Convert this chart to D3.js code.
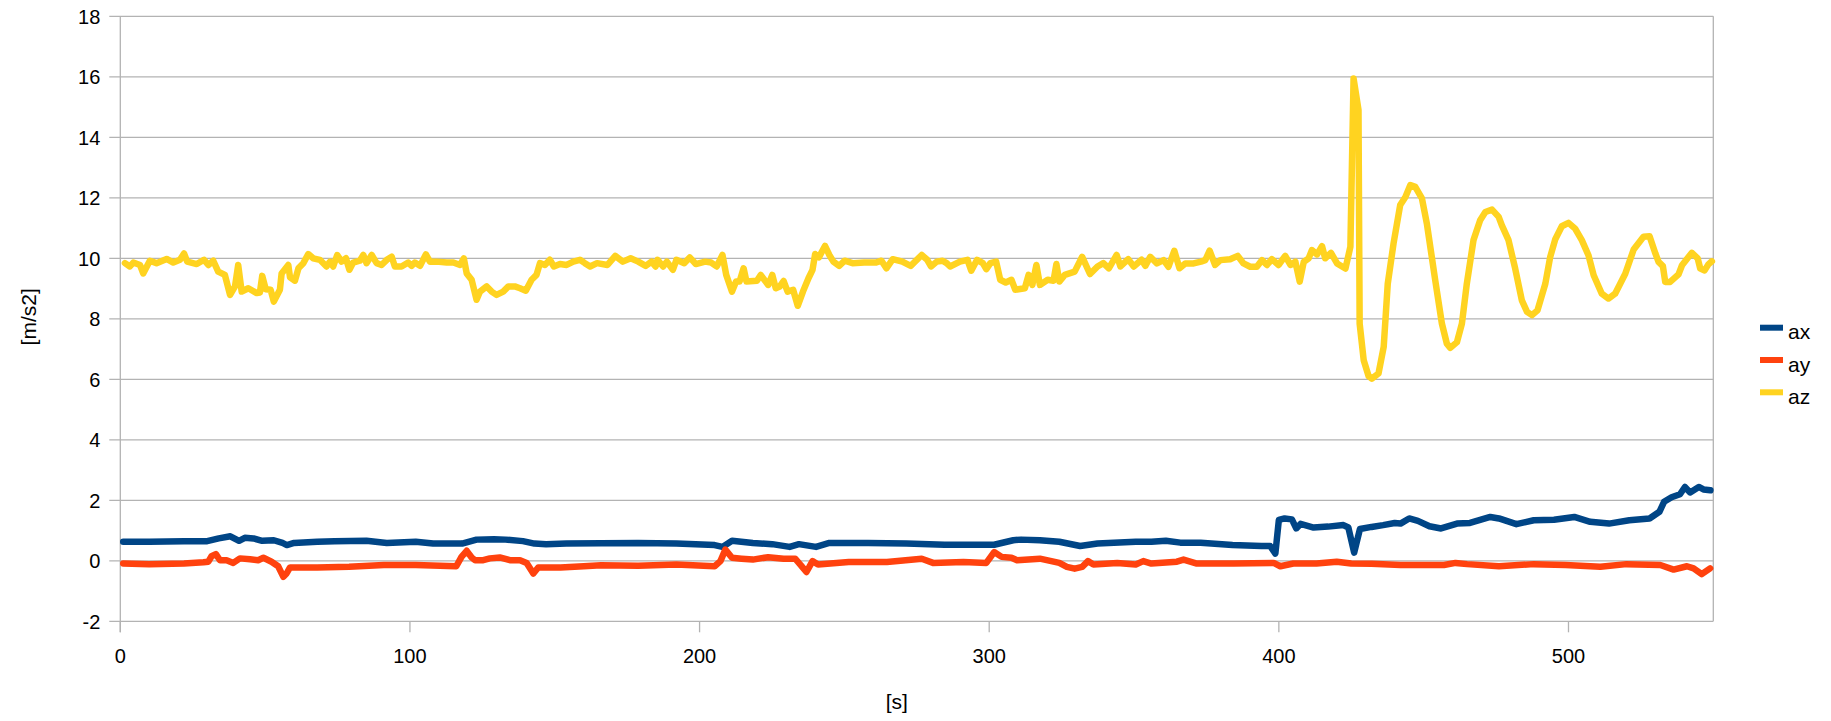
<!DOCTYPE html>
<html lang="en">
  <head>
    <meta charset="utf-8" />
    <title>Acceleration</title>
    <style>
      html,
      body {
        margin: 0;
        padding: 0;
        background: #ffffff;
      }
      svg {
        display: block;
        font-family: 'Liberation Sans', Arial, sans-serif;
      }
      .grid line {
        stroke: #b3b3b3;
        stroke-width: 1.3;
      }
      .series {
        fill: none;
        stroke-width: 6.5;
        stroke-linejoin: round;
        stroke-linecap: round;
      }
    </style>
  </head>

  <body>
    <svg></svg>

    <script src="https://d3js.org/d3.v7.min.js"></script>
    <script type="text/javascript">
      let width = 1831,
        height = 721

      // [s] sample times and values
      let axT = [1, 10, 22, 30, 34, 38, 41, 43, 46, 49, 53, 56, 57.5, 60, 68, 74, 85, 92, 102, 108, 118, 123, 129, 133, 139, 143, 147, 154, 166, 178.8, 192, 205.2, 207.9, 211.2, 218.4, 225.1, 231.1, 234.3, 240.2, 244.8, 258.2, 271.4, 284.6, 301.7, 308.3, 311, 317.5, 324.2, 331.4, 337.4, 350.6, 356, 361, 366, 373, 384, 394, 397, 398.8, 400, 402, 404.5, 406, 407.5, 412, 417, 422.3, 424, 426, 428, 432, 436, 440, 442, 445, 448, 452, 456, 461.5, 466, 473, 476, 482, 488, 495, 502, 507.5, 514, 521, 528, 531.4, 533, 535.6, 538.5, 540.2, 542, 545, 546.6, 549]
      let axV = [0.63, 0.63, 0.65, 0.65, 0.74, 0.81, 0.66, 0.76, 0.74, 0.66, 0.68, 0.59, 0.52, 0.59, 0.63, 0.65, 0.66, 0.59, 0.63, 0.57, 0.57, 0.7, 0.71, 0.7, 0.65, 0.57, 0.55, 0.57, 0.58, 0.59, 0.57, 0.52, 0.46, 0.66, 0.59, 0.55, 0.46, 0.55, 0.46, 0.59, 0.59, 0.57, 0.53, 0.53, 0.68, 0.7, 0.68, 0.63, 0.49, 0.57, 0.63, 0.63, 0.66, 0.6, 0.6, 0.52, 0.49, 0.49, 0.24, 1.35, 1.4, 1.37, 1.07, 1.22, 1.1, 1.13, 1.18, 1.1, 0.27, 1.05, 1.12, 1.18, 1.25, 1.23, 1.4, 1.32, 1.14, 1.07, 1.23, 1.25, 1.45, 1.4, 1.21, 1.34, 1.36, 1.45, 1.29, 1.23, 1.34, 1.4, 1.62, 1.95, 2.1, 2.2, 2.44, 2.26, 2.44, 2.36, 2.33]

      let ayT = [1, 10, 22, 28.7, 30.4, 31.5, 33, 34.4, 36.7, 39, 41.3, 44.8, 47.6, 49.4, 52.2, 54.5, 56.3, 57.4, 58.6, 68, 79, 91, 102, 116, 117.8, 119.6, 121.3, 122.5, 125.3, 127.6, 131, 134.5, 138, 140.3, 142.6, 144.3, 152, 160, 166, 178.8, 192, 205.2, 207.2, 208.9, 211.2, 214.5, 218.4, 223.7, 229, 233, 235, 236.9, 239, 240.9, 251.5, 264.7, 276.7, 280.6, 291.1, 299, 301.7, 304.3, 307.7, 309.6, 317.5, 324.2, 326.8, 329.5, 332.1, 334.1, 336, 344.2, 350.6, 353.2, 356, 364.8, 367.1, 371.7, 384.4, 398.2, 400.5, 405, 413, 420, 425, 432, 442, 449, 457, 461, 465, 476, 488, 499, 511, 520, 531.7, 536.3, 540.9, 543.2, 546, 548.9]
      let ayV = [-0.09, -0.11, -0.09, -0.05, -0.03, 0.15, 0.22, 0.02, 0.02, -0.07, 0.08, 0.05, 0.02, 0.1, -0.03, -0.18, -0.53, -0.42, -0.22, -0.22, -0.2, -0.14, -0.14, -0.18, 0.13, 0.33, 0.11, 0.02, 0.02, 0.08, 0.11, 0.02, 0.02, -0.07, -0.42, -0.22, -0.22, -0.18, -0.15, -0.16, -0.12, -0.18, -0.01, 0.37, 0.1, 0.07, 0.04, 0.12, 0.07, 0.07, -0.15, -0.37, -0.01, -0.12, -0.04, -0.04, 0.07, -0.07, -0.04, -0.07, 0.29, 0.13, 0.1, 0.02, 0.07, -0.07, -0.2, -0.26, -0.2, -0.01, -0.12, -0.07, -0.12, -0.01, -0.09, -0.03, 0.04, -0.09, -0.09, -0.07, -0.18, -0.09, -0.09, -0.03, -0.09, -0.1, -0.14, -0.14, -0.14, -0.07, -0.11, -0.18, -0.11, -0.14, -0.2, -0.11, -0.14, -0.29, -0.18, -0.25, -0.44, -0.25]

      let azT = [1.6, 3.3, 4.5, 6.8, 7.9, 10.2, 12.5, 16, 18.3, 20.6, 22, 23.1, 26.4, 28.9, 30.4, 32.1, 33.8, 36.1, 37.9, 39.6, 40.7, 41.9, 44.2, 47.1, 48.2, 49, 50.2, 51.9, 53, 55.1, 55.7, 58, 58.6, 60.3, 61.5, 63.2, 64.9, 66.6, 68.9, 71.2, 72.4, 73.5, 74.9, 76.4, 77.9, 79.1, 80.4, 82.7, 83.9, 85, 86.8, 88.5, 90.2, 92, 93.7, 94.8, 97.1, 99.4, 100.6, 101.7, 103.5, 105.5, 106.9, 109.2, 112.7, 115, 117.3, 118.6, 119.6, 121.3, 123, 124.2, 126.5, 128.2, 129.9, 132.2, 134, 136.2, 138, 140, 142, 143.7, 144.9, 146.6, 148.3, 149.7, 151.8, 154.1, 156.4, 158.7, 160.4, 162.2, 164.6, 168.2, 170.9, 173.5, 176.2, 178.8, 181.4, 183.4, 184.8, 185.5, 187.4, 188.7, 190.8, 192, 194.7, 196.6, 198.7, 201.9, 204, 205.9, 207.9, 209.2, 211.2, 212.6, 213.8, 215.2, 216.2, 219.8, 221.1, 223.7, 225.1, 226.3, 227.7, 229, 230.4, 232.3, 233.9, 235.7, 237.6, 239, 239.9, 241.2, 243.3, 244.8, 246.2, 248.2, 250.1, 252.8, 256.8, 260.8, 262.8, 264.5, 266.7, 270, 272.9, 276.7, 278.6, 279.9, 281.9, 283.9, 285.3, 286.5, 289.9, 292.5, 293.8, 295.8, 297.8, 299, 300.4, 302.4, 303.8, 305.7, 307.7, 309, 312.3, 313.6, 314.9, 316.3, 317.5, 320.2, 322.2, 323.2, 324.2, 326.1, 329.5, 332.1, 334.8, 337.4, 339.4, 341.3, 344, 345.3, 348, 349.9, 352.6, 353.9, 355.6, 357.9, 360.2, 361.9, 363.9, 365.7, 367.7, 370.6, 373.1, 374.6, 376.1, 378, 379.8, 383.2, 385.8, 387.8, 390.1, 392.4, 394.2, 395.9, 397.6, 399.9, 402.2, 404, 405.7, 407.2, 408.6, 410.3, 411.4, 413.2, 414.9, 416, 418, 420.1, 423, 424.7, 425.8, 427.5, 427.9, 429.3, 431, 432.1, 434.4, 436.2, 437.6, 439.6, 441.9, 443.7, 445.4, 447.1, 449.4, 451.1, 454, 456.3, 458, 459.2, 461.5, 463.2, 464.9, 467.2, 469.5, 471.3, 473.6, 475.9, 477, 479.3, 481.6, 483.9, 485.7, 487.4, 489.3, 492, 493.7, 495.4, 497.7, 500, 502.3, 504.6, 506.9, 508.7, 511.5, 513.8, 516.1, 519.6, 522.5, 525.9, 528, 530, 531.1, 532.6, 533.4, 535.1, 538, 539.2, 541.5, 542.6, 544.6, 545.5, 547, 548.3, 549.5]
      let azV = [9.84, 9.73, 9.86, 9.78, 9.5, 9.92, 9.84, 9.98, 9.86, 9.95, 10.16, 9.89, 9.81, 9.95, 9.78, 9.92, 9.56, 9.45, 8.79, 9.07, 9.78, 8.9, 9.01, 8.85, 8.87, 9.42, 8.98, 8.96, 8.57, 8.96, 9.5, 9.78, 9.37, 9.26, 9.67, 9.84, 10.14, 10, 9.95, 9.73, 9.89, 9.73, 10.11, 9.89, 10, 9.62, 9.86, 9.92, 10.11, 9.84, 10.11, 9.84, 9.78, 9.95, 10.05, 9.73, 9.73, 9.86, 9.75, 9.86, 9.75, 10.13, 9.89, 9.89, 9.86, 9.86, 9.78, 10, 9.5, 9.29, 8.63, 8.9, 9.07, 8.9, 8.79, 8.9, 9.07, 9.07, 9.01, 8.93, 9.29, 9.45, 9.84, 9.78, 9.95, 9.73, 9.81, 9.78, 9.89, 9.95, 9.84, 9.73, 9.84, 9.78, 10.08, 9.89, 10, 9.89, 9.75, 9.89, 9.73, 9.95, 9.73, 9.89, 9.62, 9.95, 9.84, 10.03, 9.81, 9.89, 9.86, 9.73, 10.11, 9.45, 8.9, 9.23, 9.23, 9.67, 9.23, 9.26, 9.45, 9.12, 9.45, 9.01, 9.07, 9.25, 8.9, 8.96, 8.43, 8.9, 9.34, 9.62, 10.14, 10.03, 10.41, 10.11, 9.89, 9.75, 9.92, 9.84, 9.86, 9.86, 9.92, 9.67, 9.97, 9.89, 9.75, 10.11, 9.95, 9.73, 9.89, 9.92, 9.84, 9.73, 9.89, 9.95, 9.59, 9.95, 9.84, 9.64, 9.84, 9.89, 9.29, 9.2, 9.29, 8.96, 9.01, 9.45, 9.12, 9.78, 9.12, 9.29, 9.26, 9.81, 9.23, 9.45, 9.56, 10.05, 9.48, 9.73, 9.84, 9.67, 10.11, 9.73, 9.97, 9.73, 9.95, 9.75, 10.05, 9.83, 9.94, 9.72, 10.25, 9.67, 9.83, 9.83, 9.89, 9.94, 10.25, 9.78, 9.94, 9.97, 10.08, 9.83, 9.72, 9.72, 9.94, 9.78, 9.97, 9.78, 10.08, 9.78, 9.89, 9.23, 9.88, 10.0, 10.27, 10.13, 10.4, 10.0, 10.18, 9.83, 9.66, 10.38, 15.94, 14.9, 7.84, 6.63, 6.1, 6.02, 6.19, 7.07, 9.16, 10.49, 11.76, 12.03, 12.42, 12.36, 11.98, 11.15, 9.27, 7.84, 7.18, 7.04, 7.23, 7.84, 9.16, 10.6, 11.26, 11.53, 11.61, 11.37, 11.09, 10.6, 9.66, 8.61, 8.23, 8.12, 8.28, 9.16, 10.05, 10.62, 11.06, 11.17, 10.98, 10.6, 10.1, 9.44, 8.83, 8.67, 8.83, 9.49, 10.29, 10.71, 10.73, 10.16, 9.88, 9.74, 9.22, 9.22, 9.47, 9.77, 10.05, 10.18, 10.0, 9.66, 9.6, 9.8, 9.9]

      let seriesNames = ['ax', 'ay', 'az']
      let seriesColors = ['#004586', '#ff420e', '#ffd320']
      let xTicks = [0, 100, 200, 300, 400, 500]
      let yTicks = [-2, 0, 2, 4, 6, 8, 10, 12, 14, 16, 18]

      let series = [
        { name: seriesNames[0], t: axT, v: axV },
        { name: seriesNames[1], t: ayT, v: ayV },
        { name: seriesNames[2], t: azT, v: azV },
      ]

      let margin = { top: 16.3, right: 117.7, bottom: 99.7, left: 120.3 }

      let svg = d3.select('svg').attr('width', width).attr('height', height)

      let x = d3
        .scaleLinear()
        .domain([0, 550])
        .range([margin.left, width - margin.right])
      let y = d3
        .scaleLinear()
        .domain([-2, 18])
        .range([height - margin.bottom, margin.top])

      // Gridlines
      svg
        .append('g')
        .attr('class', 'grid')
        .selectAll('line')
        .data(yTicks)
        .join('line')
        .attr('x1', margin.left - 11)
        .attr('x2', width - margin.right)
        .attr('y1', (d) => y(d))
        .attr('y2', (d) => y(d))

      // Frame and x ticks
      let frame = svg.append('g').attr('class', 'grid')
      frame
        .append('line')
        .attr('x1', x(0))
        .attr('x2', x(0))
        .attr('y1', y(18))
        .attr('y2', y(-2) + 11)
      frame
        .append('line')
        .attr('x1', x(550))
        .attr('x2', x(550))
        .attr('y1', y(18))
        .attr('y2', y(-2))
      frame
        .selectAll('.xt')
        .data(xTicks)
        .join('line')
        .attr('x1', (d) => x(d))
        .attr('x2', (d) => x(d))
        .attr('y1', y(-2))
        .attr('y2', y(-2) + 11)

      // Tick labels
      svg
        .append('g')
        .selectAll('text')
        .data(yTicks)
        .join('text')
        .attr('x', margin.left - 20)
        .attr('y', (d) => y(d))
        .attr('dy', '0.36em')
        .attr('text-anchor', 'end')
        .attr('font-size', 20)
        .text((d) => d)

      svg
        .append('g')
        .selectAll('text')
        .data(xTicks)
        .join('text')
        .attr('x', (d) => x(d))
        .attr('y', y(-2) + 42)
        .attr('text-anchor', 'middle')
        .attr('font-size', 20)
        .text((d) => d)

      // Axis titles
      svg
        .append('text')
        .attr('x', (margin.left + width - margin.right) / 2 - 20)
        .attr('y', 709)
        .attr('text-anchor', 'middle')
        .attr('font-size', 21)
        .text('[s]')

      svg
        .append('text')
        .attr('transform', 'translate(36,' + (y(8) - 2) + ') rotate(-90)')
        .attr('text-anchor', 'middle')
        .attr('font-size', 21)
        .text('[m/s2]')

      // Lines
      let line = d3
        .line()
        .x((d) => x(d[0]))
        .y((d) => y(d[1]))

      svg
        .append('g')
        .selectAll('path')
        .data(series)
        .join('path')
        .attr('class', 'series')
        .attr('stroke', (d, i) => seriesColors[i])
        .attr('d', (d) => line(d.t.map((t, i) => [t, d.v[i]])))

      // Legend
      let legend = svg
        .append('g')
        .selectAll('g')
        .data(seriesNames)
        .join('g')
        .attr('transform', (d, i) => 'translate(1760,' + (327.7 + i * 32.3) + ')')
      legend
        .append('line')
        .attr('x1', 0)
        .attr('x2', 23)
        .attr('stroke', (d, i) => seriesColors[i])
        .attr('stroke-width', 6)
      legend
        .append('text')
        .attr('x', 28)
        .attr('y', 11.5)
        .attr('font-size', 21)
        .text((d) => d)
    </script>
  </body>
</html>
